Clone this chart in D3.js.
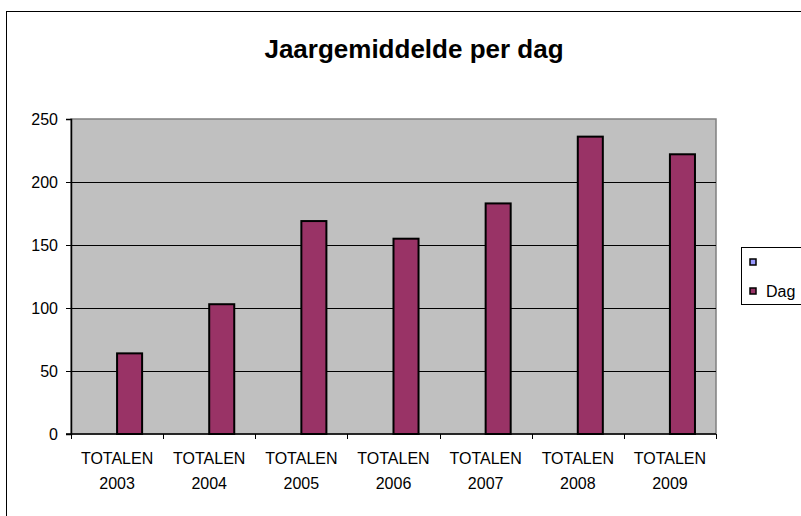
<!DOCTYPE html>
<html>
<head>
<meta charset="utf-8">
<script src="https://cdn.jsdelivr.net/npm/d3@7"></script>
<style>
  body { margin: 0; background: #fff; }
  svg { display: block; font-family: "Liberation Sans", Arial, sans-serif; }
</style>
</head>
<body>
<div id="chart"></div>
<script>
var chart_width = 801,
    chart_height = 516;

// Data
var categories = ['TOTALEN 2003', 'TOTALEN 2004', 'TOTALEN 2005', 'TOTALEN 2006',
                  'TOTALEN 2007', 'TOTALEN 2008', 'TOTALEN 2009'];
var seriesNames = ['', 'Dag'];
var emptyValues = [null, null, null, null, null, null, null];
var dagValues = [64, 103, 169, 155, 183, 236, 222];
var yTicks = [0, 50, 100, 150, 200, 250];
var colors = ['#9999ff', '#993366'];

var plot = { left: 71, top: 119, right: 716, bottom: 434 };

var svg = d3.select('#chart')
    .append('svg')
    .attr('width', chart_width)
    .attr('height', chart_height);

// outer chart frame
svg.append('rect')
    .attr('x', 6.5).attr('y', 11.5)
    .attr('width', 820).attr('height', 530)
    .attr('fill', '#fff')
    .attr('stroke', '#000')
    .attr('stroke-width', 1);

svg.append('text')
    .attr('x', 414).attr('y', 58)
    .attr('text-anchor', 'middle')
    .attr('font-size', '26px')
    .attr('font-weight', 'bold')
    .text('Jaargemiddelde per dag');

// Scales
var x = d3.scaleBand()
    .domain(categories)
    .range([plot.left, plot.right]);

var xSub = d3.scaleBand()
    .domain(seriesNames)
    .range([0, x.bandwidth()])
    .paddingInner(0)
    .paddingOuter(0.84);

var y = d3.scaleLinear()
    .domain([0, 250])
    .range([plot.bottom, plot.top]);

// plot area
svg.append('rect')
    .attr('x', plot.left).attr('y', plot.top)
    .attr('width', plot.right - plot.left)
    .attr('height', plot.bottom - plot.top)
    .attr('fill', '#c0c0c0')
    .attr('stroke', '#808080')
    .attr('stroke-width', 1.5);

// gridlines
svg.append('g')
    .selectAll('line')
    .data(yTicks.filter(function (d) { return d > 0 && d < 250; }))
    .enter()
    .append('line')
    .attr('x1', plot.left).attr('x2', plot.right)
    .attr('y1', function (d) { return Math.round(y(d)) + 0.5; })
    .attr('y2', function (d) { return Math.round(y(d)) + 0.5; })
    .attr('stroke', '#000')
    .attr('stroke-width', 1);

// bars
var table = categories.map(function (c, i) {
    return { cat: c, values: [emptyValues[i], dagValues[i]] };
});

var groups = svg.append('g')
    .selectAll('g')
    .data(table)
    .enter()
    .append('g')
    .attr('transform', function (d) { return 'translate(' + x(d.cat) + ',0)'; });

groups.selectAll('rect')
    .data(function (d) {
        return d.values.map(function (v, j) { return { name: seriesNames[j], value: v, color: colors[j] }; });
    })
    .enter()
    .filter(function (d) { return d.value != null; })
    .append('rect')
    .attr('x', function (d) { return xSub(d.name); })
    .attr('y', function (d) { return y(d.value); })
    .attr('width', xSub.bandwidth())
    .attr('height', function (d) { return y(0) - y(d.value); })
    .attr('fill', function (d) { return d.color; })
    .attr('stroke', '#000')
    .attr('stroke-width', 2);

// y axis
var yAxis = svg.append('g')
    .attr('transform', 'translate(' + plot.left + ',0)')
    .call(d3.axisLeft(y).tickValues(yTicks).tickSize(5).tickPadding(8));
yAxis.attr('font-family', null).attr('font-size', null);
yAxis.selectAll('text').style('font-size', '16px').attr('fill', '#000');
yAxis.selectAll('line').attr('stroke', '#000');
yAxis.select('.domain').attr('stroke', '#000').attr('stroke-width', 1.5);

// x axis
var xAxis = svg.append('g')
    .attr('transform', 'translate(0,' + plot.bottom + ')');
xAxis.append('line')
    .attr('x1', plot.left - 5).attr('x2', plot.right)
    .attr('y1', 0).attr('y2', 0)
    .attr('stroke', '#000').attr('stroke-width', 1.5);
xAxis.selectAll('line.tick')
    .data(categories.concat(['end']))
    .enter()
    .append('line')
    .attr('class', 'tick')
    .attr('x1', function (d, i) { return Math.round(plot.left + i * x.bandwidth()) + 0.5; })
    .attr('x2', function (d, i) { return Math.round(plot.left + i * x.bandwidth()) + 0.5; })
    .attr('y1', 0).attr('y2', 5)
    .attr('stroke', '#000');
var labels = xAxis.selectAll('text')
    .data(categories)
    .enter()
    .append('text')
    .attr('text-anchor', 'middle')
    .style('font-size', '16px')
    .attr('x', function (d) { return x(d) + x.bandwidth() / 2; });
labels.append('tspan')
    .attr('x', function (d) { return x(d) + x.bandwidth() / 2; })
    .attr('y', 30)
    .text(function (d) { return d.split(' ')[0]; });
labels.append('tspan')
    .attr('x', function (d) { return x(d) + x.bandwidth() / 2; })
    .attr('y', 55)
    .text(function (d) { return d.split(' ')[1]; });

// legend
var legend = svg.append('g').attr('transform', 'translate(741,247)');
legend.append('rect')
    .attr('x', 0.5).attr('y', 0.5)
    .attr('width', 80).attr('height', 57)
    .attr('fill', '#fff')
    .attr('stroke', '#000');
var items = legend.selectAll('g')
    .data(seriesNames)
    .enter()
    .append('g')
    .attr('transform', function (d, i) { return 'translate(9,' + (12 + i * 29) + ')'; });
items.append('rect')
    .attr('width', 6).attr('height', 6)
    .attr('fill', function (d, i) { return colors[i]; })
    .attr('stroke', '#000')
    .attr('stroke-width', 1.5);
items.append('text')
    .attr('x', 16).attr('y', 9)
    .style('font-size', '16px')
    .text(function (d) { return d; });
</script>
</body>
</html>
